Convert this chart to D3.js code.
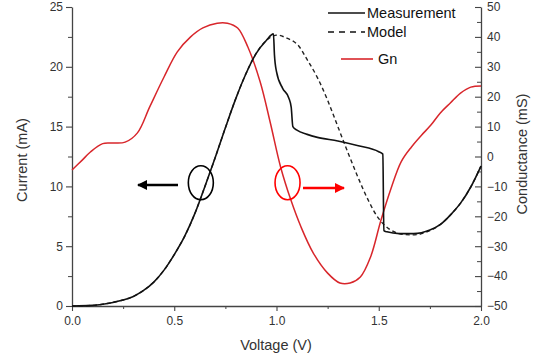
<!DOCTYPE html>
<html><head><meta charset="utf-8">
<script src="https://cdn.jsdelivr.net/npm/d3@7"></script>
<style>body{margin:0;background:#fff}svg{display:block}text{font-family:"Liberation Sans",Arial,sans-serif}</style>
</head><body><svg id="c" width="542" height="361"></svg>
<script>
// Measurement (current, mA)
const measV = [0,0.1,0.15,0.2,0.25,0.3,0.35,0.4,0.45,0.5,0.55,0.6,0.65,0.7,0.75,0.8,0.85,0.9,0.95,0.985,0.99,1.0,1.03,1.06,1.072,1.08,1.1,1.15,1.2,1.3,1.4,1.5,1.52,1.525,1.54,1.6,1.67,1.75,1.8,1.85,1.9,1.95,2.0];
const measI = [0,0.05,0.15,0.3,0.5,0.8,1.3,2.0,3.0,4.3,5.8,7.7,10.0,12.4,14.9,17.3,19.4,21.1,22.2,22.75,21.0,19.6,18.2,17.4,16.6,15.0,14.7,14.35,14.1,13.8,13.4,12.9,12.7,6.3,6.2,6.05,6.05,6.35,6.8,7.6,8.6,9.95,11.7];
// Model (current, mA)
const modelV = [0,0.1,0.15,0.2,0.25,0.3,0.35,0.4,0.45,0.5,0.55,0.6,0.65,0.7,0.75,0.8,0.85,0.9,0.95,1.0,1.05,1.1,1.15,1.2,1.25,1.3,1.35,1.4,1.45,1.5,1.55,1.6,1.65,1.7,1.75,1.8,1.85,1.9,1.95,2.0];
const modelI = [0,0.05,0.15,0.3,0.5,0.8,1.3,2.0,3.0,4.3,5.8,7.7,10.0,12.4,14.9,17.3,19.4,21.1,22.2,22.65,22.4,21.9,20.6,19.1,17.2,15.0,12.8,10.7,8.8,7.3,6.45,6.05,5.95,6.0,6.3,6.8,7.6,8.6,9.95,11.7];
// Gn (conductance, mS)
const gnV = [0,0.05,0.09,0.15,0.2,0.26,0.32,0.38,0.45,0.515,0.58,0.64,0.71,0.76,0.81,0.86,0.92,0.97,1.02,1.07,1.12,1.18,1.25,1.31,1.36,1.41,1.46,1.51,1.56,1.61,1.66,1.71,1.755,1.8,1.85,1.9,1.95,2.0];
const gnG = [-4.5,-1.2,1.5,4.3,4.5,4.8,7.9,16.6,26.6,35,40,43,44.6,44.6,43,36.6,25,11.2,-3.5,-14.5,-23.6,-32.3,-39,-42.3,-42.3,-40.3,-33.6,-21.5,-10.7,-1.7,3.2,7.2,10.5,14.5,17.9,21.2,23.2,23.6];
// Tick labels
const xTicks = [0,0.5,1.0,1.5,2.0];
const yLeftTicks = [0,5,10,15,20,25];
const yRightTicks = [-50,-40,-30,-20,-10,0,10,20,30,40,50];
const legendLabels = ["Measurement","Model","Gn"];

const svg = d3.select("#c");
const L=72, R=481, T=7, B=306;
const x = d3.scaleLinear().domain([0,2]).range([L,R]);
const yL = d3.scaleLinear().domain([0,25]).range([B,T]);
const yR = d3.scaleLinear().domain([-50,50]).range([B,T]);
const axisCol="#444", txtCol="#333";

function styleAxis(g){
  g.select(".domain").attr("stroke",axisCol).attr("stroke-width",1.3);
  g.selectAll(".tick line").attr("stroke",axisCol).attr("stroke-width",1.1);
  g.selectAll(".tick text").attr("fill",txtCol).style("font-size","12px").style("font-family",'"Liberation Sans",Arial,sans-serif');
}
// minor ticks
svg.append("g").attr("transform",`translate(0,${B})`)
  .call(d3.axisBottom(x).tickValues(d3.range(0.25,2,0.5)).tickSize(3).tickFormat("").tickSizeOuter(0))
  .call(g=>{g.select(".domain").remove();g.selectAll("line").attr("stroke",axisCol);});
svg.append("g").attr("transform",`translate(${L},0)`)
  .call(d3.axisLeft(yL).tickValues(d3.range(2.5,25,5)).tickSize(4).tickFormat("").tickSizeOuter(0))
  .call(g=>{g.select(".domain").remove();g.selectAll("line").attr("stroke",axisCol);});
svg.append("g").attr("transform",`translate(${R},0)`)
  .call(d3.axisLeft(yR).tickValues(d3.range(-45,50,10)).tickSize(4).tickFormat("").tickSizeOuter(0))
  .call(g=>{g.select(".domain").remove();g.selectAll("line").attr("stroke",axisCol);});

svg.append("g").attr("transform",`translate(0,${B})`)
  .call(d3.axisBottom(x).tickValues(xTicks).tickFormat(d3.format(".1f")).tickSize(5).tickSizeOuter(0).tickPadding(5))
  .call(styleAxis);
svg.append("g").attr("transform",`translate(${L},0)`)
  .call(d3.axisLeft(yL).tickValues(yLeftTicks).tickSize(6).tickSizeOuter(0).tickPadding(3))
  .call(styleAxis);
svg.append("g").attr("transform",`translate(${R},0)`)
  .call(d3.axisRight(yR).tickValues(yRightTicks).tickSize(-6).tickSizeOuter(0).tickPadding(6))
  .call(styleAxis);

// axis titles
svg.append("text").attr("x",276).attr("y",350).attr("text-anchor","middle").attr("fill",txtCol).style("font-size","14.5px").text("Voltage (V)");
svg.append("text").attr("transform","translate(27,160) rotate(-90)").attr("text-anchor","middle").attr("fill",txtCol).style("font-size","14.5px").text("Current (mA)");
svg.append("text").attr("transform","translate(527,154) rotate(-90)").attr("text-anchor","middle").attr("fill",txtCol).style("font-size","14.5px").text("Conductance (mS)");

const redCol = "#d8262b";
const lineL = d3.line().x(d=>x(d[0])).y(d=>yL(d[1])).curve(d3.curveCatmullRom.alpha(0.5));
const lineR = d3.line().x(d=>x(d[0])).y(d=>yR(d[1])).curve(d3.curveCatmullRom.alpha(0.5));

svg.append("path").attr("d",lineR(d3.zip(gnV,gnG))).attr("fill","none").attr("stroke",redCol).attr("stroke-width",1.5);
svg.append("path").attr("d",lineL(d3.zip(modelV,modelI))).attr("fill","none").attr("stroke","#222").attr("stroke-width",1.4).attr("stroke-dasharray","4,3");
svg.append("path").attr("d",d3.line().x(d=>x(d[0])).y(d=>yL(d[1])).curve(d3.curveMonotoneX)(d3.zip(measV,measI))).attr("fill","none").attr("stroke","#111").attr("stroke-width",1.6).attr("stroke-linejoin","round");

// legend
const lg = svg.append("g");
lg.append("line").attr("x1",328).attr("x2",365).attr("y1",13).attr("y2",13).attr("stroke","#111").attr("stroke-width",1.6);
lg.append("line").attr("x1",328).attr("x2",365).attr("y1",32).attr("y2",32).attr("stroke","#111").attr("stroke-width",1.4).attr("stroke-dasharray","6,5");
lg.append("line").attr("x1",341).attr("x2",373).attr("y1",59).attr("y2",59).attr("stroke",redCol).attr("stroke-width",1.6);
lg.append("text").attr("x",367).attr("y",18).attr("fill","#111").style("font-size","14.5px").text(legendLabels[0]);
lg.append("text").attr("x",367).attr("y",37).attr("fill","#111").style("font-size","14.5px").text(legendLabels[1]);
lg.append("text").attr("x",378).attr("y",64).attr("fill","#111").style("font-size","14.5px").text(legendLabels[2]);

// annotations
svg.append("ellipse").attr("cx",x(0.63)).attr("cy",yL(10.3)).attr("rx",12.5).attr("ry",17).attr("fill","none").attr("stroke","#000").attr("stroke-width",1.6);
svg.append("ellipse").attr("cx",x(1.054)).attr("cy",yL(10.3)).attr("rx",12.5).attr("ry",17).attr("fill","none").attr("stroke","#f00").attr("stroke-width",1.6);
svg.append("defs").html('<marker id="ab" viewBox="0 0 10 10" refX="9" refY="5" markerWidth="4" markerHeight="4" orient="auto"><path d="M0,0L10,5L0,10z" fill="#000"/></marker><marker id="ar" viewBox="0 0 10 10" refX="9" refY="5" markerWidth="4" markerHeight="4" orient="auto"><path d="M0,0L10,5L0,10z" fill="#f00"/></marker>');
svg.append("line").attr("x1",178).attr("x2",138).attr("y1",185).attr("y2",185).attr("stroke","#000").attr("stroke-width",2.5).attr("marker-end","url(#ab)");
svg.append("line").attr("x1",303).attr("x2",344).attr("y1",188).attr("y2",188).attr("stroke","#f00").attr("stroke-width",2.5).attr("marker-end","url(#ar)");
</script></body></html>
